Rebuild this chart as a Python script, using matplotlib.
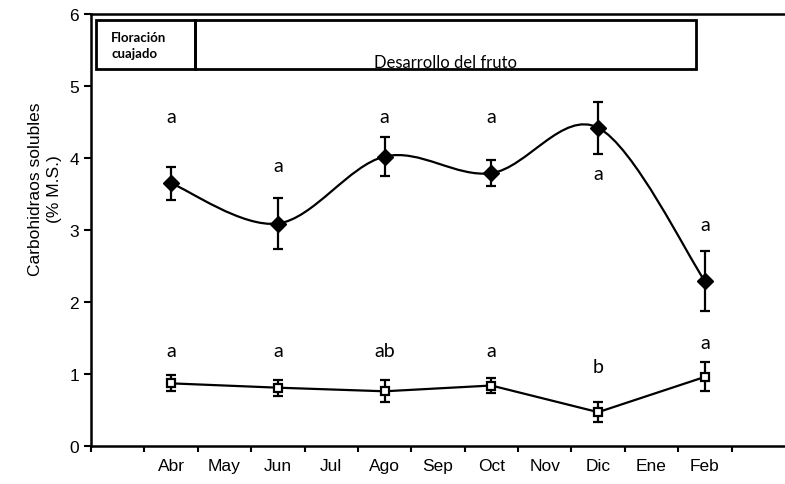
import numpy as np
import matplotlib
matplotlib.use("Agg")
import matplotlib.pyplot as plt
from matplotlib.path import Path
from matplotlib.patches import PathPatch, Rectangle

# Months on the axis and positions of the sampled months
months = ["Abr", "May", "Jun", "Jul", "Ago", "Sep", "Oct", "Nov", "Dic", "Ene", "Feb"]
sampled = ["Abr", "Jun", "Ago", "Oct", "Dic", "Feb"]

# Upper series (filled diamonds) and lower series (open squares)
upper = [3.65, 3.09, 4.02, 3.79, 4.42, 2.29]
upper_err = [0.23, 0.35, 0.27, 0.18, 0.36, 0.42]
lower = [0.87, 0.81, 0.76, 0.84, 0.47, 0.96]
lower_err = [0.11, 0.11, 0.15, 0.10, 0.14, 0.20]

# Significance letters and the heights they sit at
upper_letters = ["a", "a", "a", "a", "a", "a"]
upper_letter_y = [4.57, 3.90, 4.57, 4.57, 3.78, 3.08]
lower_letters = ["a", "a", "ab", "a", "b", "a"]
lower_letter_y = [1.32, 1.32, 1.32, 1.32, 1.11, 1.44]

x = np.array([months.index(m) for m in sampled], dtype=float)


def smooth_path(xs, ys):
    # Excel-like smoothed line: cubic Bezier segments, tension 1/6
    pts = np.column_stack([xs, ys])
    verts = [pts[0]]
    codes = [Path.MOVETO]
    n = len(pts)
    for i in range(n - 1):
        p0 = pts[max(i - 1, 0)]
        p1 = pts[i]
        p2 = pts[i + 1]
        p3 = pts[min(i + 2, n - 1)]
        c1 = p1 + (p2 - p0) / 6.0
        c2 = p2 - (p3 - p1) / 6.0
        verts += [c1, c2, p2]
        codes += [Path.CURVE4] * 3
    return Path(verts, codes)


fig = plt.figure(figsize=(7.85, 4.85), dpi=100)
ax = fig.add_axes([91 / 785, 1 - 447 / 485, 1 - 91 / 785, (447 - 15) / 485])

ax.add_patch(PathPatch(smooth_path(x, upper), fill=False, lw=1.6, color="black", zorder=3))
ax.errorbar(x, upper, yerr=upper_err, fmt="D", color="black", ms=8.5,
            ecolor="black", elinewidth=1.6, capsize=3.8, capthick=1.6, zorder=4)

ax.errorbar(x, lower, yerr=lower_err, fmt="-s", color="black", ms=5.5, mfc="white",
            mew=1.6, lw=1.6, ecolor="black", elinewidth=1.6, capsize=3.8, capthick=1.6,
            zorder=4)

for xi, t, yy in zip(x, upper_letters, upper_letter_y):
    ax.text(xi, yy, t, ha="center", va="center", fontsize=14, family="Lato")
for xi, t, yy in zip(x, lower_letters, lower_letter_y):
    ax.text(xi, yy, t, ha="center", va="center", fontsize=14, family="Lato")

# Phase boxes along the top
ax.add_patch(Rectangle((-1.40, 5.23), 1.85, 0.69, fill=False, lw=2, ec="black", zorder=5))
ax.add_patch(Rectangle((0.45, 5.23), 9.38, 0.69, fill=False, lw=2, ec="black", zorder=5))
ax.text(-1.12, 5.57, "Floración\ncuajado", ha="left", va="center", fontsize=9.5,
        fontweight="bold", family="Lato", linespacing=1.4)
ax.text(5.14, 5.33, "Desarrollo del fruto", ha="center", va="center", fontsize=12,
        family="Lato")

ax.set_xlim(-1.5, 11.5)
ax.set_ylim(0, 6)
ax.set_yticks(range(7))
ax.set_xticks(np.arange(-1.5, 11, 1.0))
ax.set_xticklabels([])
ax.set_xticks(np.arange(len(months)), minor=True)
ax.set_xticklabels(months, minor=True, fontsize=12.5, family="Liberation Sans")
ax.tick_params(axis="x", which="minor", length=0, pad=9)
ax.tick_params(axis="x", which="major", direction="out", length=4, width=1.5)
ax.tick_params(axis="y", direction="out", length=5, width=1.5, labelsize=12.5)
for lab in ax.get_yticklabels():
    lab.set_family("Liberation Sans")

for s in ["left", "bottom", "top"]:
    ax.spines[s].set_linewidth(1.8)
ax.spines["right"].set_visible(False)

ax.set_ylabel("Carbohidraos solubles\n(% M.S.)", fontsize=12.5, family="Liberation Sans",
              linespacing=1.3)
ax.yaxis.set_label_coords(-0.042, 0.597)

fig.savefig("out.png", dpi=100)
